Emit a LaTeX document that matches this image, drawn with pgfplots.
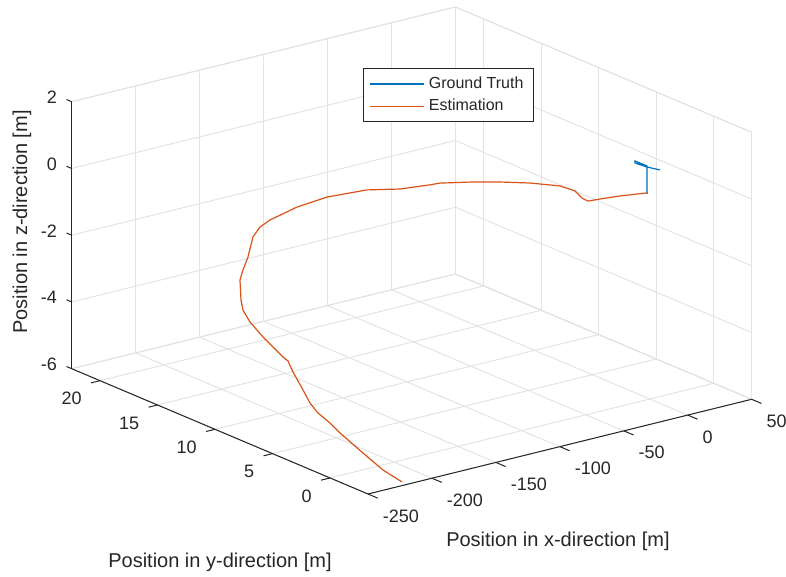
\documentclass[border=0pt]{standalone}
\usepackage{pgfplots}
\pgfplotsset{compat=1.18}
\usepackage{fontspec}
\setmainfont{Liberation Sans}
\definecolor{mblue}{rgb}{0,0.447,0.741}
\definecolor{morange}{rgb}{0.85,0.325,0.098}
\definecolor{axgray}{rgb}{0.15,0.15,0.15}
\definecolor{gridgray}{rgb}{0.89,0.89,0.89}
\begin{document}
\begin{tikzpicture}
\begin{axis}[
  x={(0.6395pt,0.15785pt)}, y={(-5.751pt,2.432pt)}, z={(0pt,16.6875pt)},
  xmin=-250, xmax=50, ymin=-3.3, ymax=22.46, zmin=-6, zmax=2,
  xtick={-250,-200,...,50}, ytick={0,5,...,20}, ztick={-6,-4,...,2},
  grid=major, major grid style={gridgray, line width=0.5pt},
  axis line style={gridgray, line width=0.5pt},
  tick style={draw=none},
  tick align=outside, tick pos=left,
  clip=false,
  ticklabel style={font=\fontsize{9}{10}\selectfont, text=axgray},
  xticklabel style={anchor=west, yshift=-9.3pt},
  yticklabel style={anchor=east, yshift=-8pt, xshift=-1.5pt},
  zticklabel style={anchor=east, yshift=0.5pt},
  /pgf/number format/assume math mode=true,
  xlabel={Position in x-direction [m]},
  ylabel={Position in y-direction [m]},
  zlabel={Position in z-direction [m]},
  every axis x label/.style={at={(axis cs:-211.1,-15.49,-6)}, anchor=center, font=\fontsize{10}{12}\selectfont, text=axgray},
  every axis y label/.style={at={(axis cs:-402.45,-7.385,-6)}, anchor=center, font=\fontsize{10}{12}\selectfont, text=axgray},
  every axis z label/.style={at={(axis cs:-250,26.78,-2.234)}, anchor=center, rotate=90, font=\fontsize{10}{12}\selectfont, text=axgray},
  legend style={at={(axis description cs:0.4288,0.8741)}, anchor=north west, draw=axgray, line width=0.4pt, font=\fontsize{8}{9}\selectfont, text=axgray},
  legend cell align=left,
  legend image code/.code={\draw[#1] (0pt,0pt) -- (27pt,0pt);},
]
\addplot3[mblue, line width=0.6pt] coordinates {
(4.2,0.71,0) (4.2,0.71,0.84) (4.1,1.74,0.84) (1.8,1.48,0.84) (3.0,0.58,0.84) (5.95,-0.23,0.84)
};
\addlegendentry{Ground Truth}
\addplot3[morange, line width=0.6pt] coordinates {
(4.9,0.7,0.03) (-16.1,0.8,0.12) (-29.9,1.0,0.13) (-37.5,1.2,0.11) (-41.3,1.3,0.22)
(-44.1,1.6,0.42) (-50.4,2.2,0.54) (-64.9,3.2,0.62) (-79.3,4.2,0.64) (-93.8,5.2,0.63)
(-108.3,6.2,0.59) (-112.5,6.6,0.52) (-125.2,7.8,0.34) (-140.2,9.0,0.28) (-153.5,11.0,-0.10)
(-158.9,13.0,-0.64) (-165.56,14.61,-1.2) (-168.88,15.11,-1.45) (-172.3,15.34,-1.75)
(-176.74,15.28,-2.3) (-180.73,15.27,-2.65) (-184.17,15.15,-2.9) (-191.38,14.26,-3.3)
(-194.33,13.76,-3.5) (-197.05,12.85,-3.7) (-198.43,11.56,-3.95) (-200.2,9.63,-4.25)
(-199.69,9.25,-4.32) (-204.96,8.23,-4.45) (-211.44,6.73,-4.65) (-217.2,5.39,-4.85)
(-219.08,4.49,-5.0) (-219.0,3.45,-5.15) (-219.88,2.48,-5.3) (-220.2,0.45,-5.6)
(-221.59,-1.45,-5.82) (-219.2,-2.83,-6.0)
};
\addlegendentry{Estimation}
\draw[axgray, line width=0.5pt] (axis cs:-250,-3.3,-6) -- (axis cs:50,-3.3,-6);
\draw[axgray, line width=0.5pt] (axis cs:-250,-3.3,-6) -- (axis cs:-250,22.46,-6);
\draw[axgray, line width=0.5pt] (axis cs:-250,22.46,-6) -- (axis cs:-250,22.46,2);
\pgfplotsinvokeforeach{-250,-200,-150,-100,-50,0,50}{
  \draw[axgray, line width=0.5pt] (axis cs:#1,-3.3,-6) -- (axis cs:#1,-4.15,-6);}
\pgfplotsinvokeforeach{0,5,10,15,20}{
  \draw[axgray, line width=0.5pt] (axis cs:-250,#1,-6) -- (axis cs:-257,#1,-6);}
\pgfplotsinvokeforeach{-6,-4,-2,0,2}{
  \draw[axgray, line width=0.5pt] (axis cs:-250,22.46,#1) -- (axis cs:-250,22.91,#1);}
\coordinate (C0) at (axis cs:-250,-3.3,-6);
\end{axis}
\path (C0) ++(-184pt,247pt) coordinate (TL);
\path (C0) ++(209pt,-41.5pt) coordinate (BR);
\pgfresetboundingbox
\path[use as bounding box] (TL) rectangle (BR);
\end{tikzpicture}
\end{document}
